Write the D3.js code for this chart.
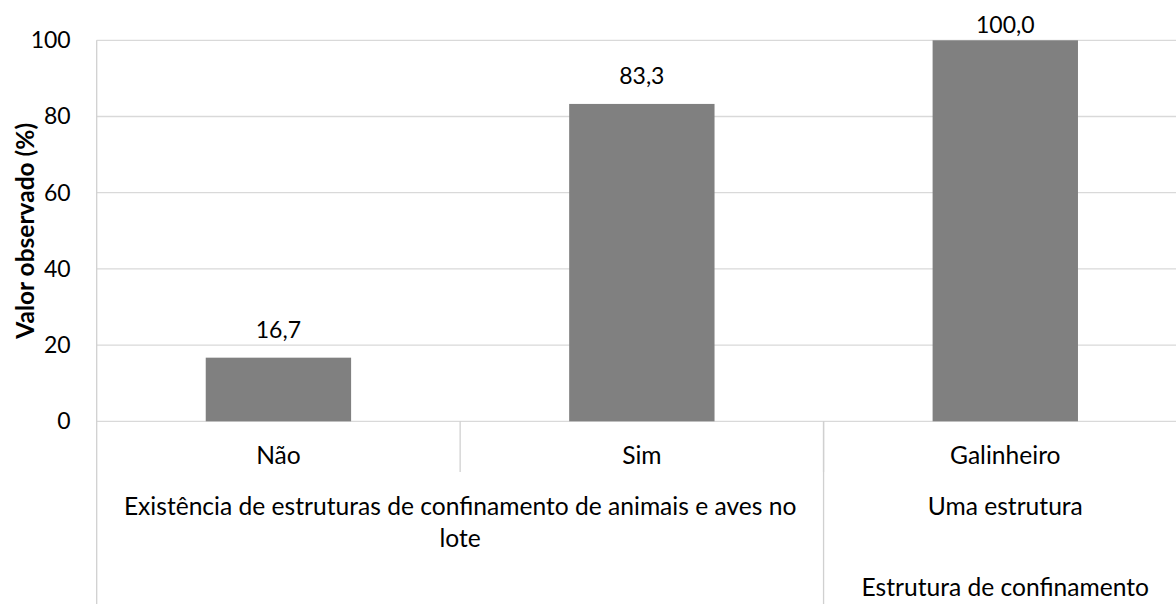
<!DOCTYPE html>
<html>
<head>
<meta charset="utf-8">
<script src="https://cdn.jsdelivr.net/npm/d3@7"></script>
<style>
  html, body { margin: 0; padding: 0; background: #fff; }
  svg { display: block; }
  text { font-family: Lato, "Open Sans", sans-serif; fill: #000; }
</style>
</head>
<body>
<svg id="chart" width="1176" height="604"></svg>
<script>
// ---- data ----
const categories = ["Não", "Sim", "Galinheiro"];
const values = [16.7, 83.3, 100.0];
const yTicks = [0, 20, 40, 60, 80, 100];
const level2Labels = [["Existência de estruturas de confinamento de animais e aves no", "lote"], ["Uma estrutura"]];
const level2Spans = [2, 1];
const level3Labels = [[""], ["Estrutura de confinamento"]];
const level3Spans = [2, 1];
const yTitle = "Valor observado (%)";

// ---- layout ----
const W = 1176, H = 604;
const pLeft = 96.7, pRight = 1187, pTop = 40.3, pBottom = 421.3;
const fs = 24.6;     // category text
const fsNum = 23;    // numbers

const svg = d3.select("#chart");
const x = d3.scaleBand().domain(categories).range([pLeft, pRight]).paddingInner(0).paddingOuter(0);
const y = d3.scaleLinear().domain([0, 100]).range([pBottom, pTop]);
const loc = d3.formatLocale({decimal: ",", thousands: ".", grouping: [3], currency: ["", ""]});
const fmt = loc.format(".1f");

// gridlines
svg.append("g").selectAll("line").data(yTicks).join("line")
  .attr("x1", pLeft).attr("x2", pRight)
  .attr("y1", d => y(d)).attr("y2", d => y(d))
  .attr("stroke", "#d9d9d9").attr("stroke-width", 1.3);

// y axis labels
const yAxis = d3.axisLeft(y).tickValues(yTicks).tickSize(0).tickPadding(26).tickFormat(d3.format("d"));
const gy = svg.append("g").attr("transform", `translate(${pLeft},0)`).call(yAxis);
gy.select(".domain").remove();
gy.selectAll("text").attr("font-size", fsNum).attr("font-family", "Lato").attr("fill", "#000");

// bars
const bw = x.bandwidth() * 0.4;
svg.append("g").selectAll("rect").data(values).join("rect")
  .attr("x", (d, i) => x(categories[i]) + (x.bandwidth() - bw) / 2)
  .attr("width", bw)
  .attr("y", d => y(d))
  .attr("height", d => y(0) - y(d))
  .attr("fill", "#808080");

// data labels
svg.append("g").selectAll("text").data(values).join("text")
  .attr("x", (d, i) => x(categories[i]) + x.bandwidth() / 2)
  .attr("y", d => Math.max(y(d) - 20, 33))
  .attr("text-anchor", "middle")
  .attr("font-size", fsNum)
  .text(d => fmt(d));

// vertical axis line and separators
const sep = svg.append("g").attr("stroke", "#d0d0d0").attr("stroke-width", 1.3);
sep.append("line").attr("x1", pLeft).attr("x2", pLeft).attr("y1", pTop).attr("y2", H);
categories.slice(1).forEach(c => {
  sep.append("line").attr("x1", x(c)).attr("x2", x(c)).attr("y1", pBottom).attr("y2", 472);
});
let acc = 0;
level2Spans.slice(0, -1).forEach(s => {
  acc += s;
  const xx = x(categories[acc]);
  sep.append("line").attr("x1", xx).attr("x2", xx).attr("y1", pBottom).attr("y2", H);
});

// level-1 labels
svg.append("g").selectAll("text").data(categories).join("text")
  .attr("x", d => x(d) + x.bandwidth() / 2)
  .attr("y", 464)
  .attr("text-anchor", "middle")
  .attr("font-size", fs)
  .text(d => d);

// grouped labels
function drawLevel(labels, spans, baseY) {
  let start = 0;
  labels.forEach((lines, i) => {
    const x0 = x(categories[start]);
    const x1 = x(categories[start + spans[i] - 1]) + x.bandwidth();
    const t = svg.append("text")
      .attr("x", (x0 + x1) / 2).attr("y", baseY)
      .attr("text-anchor", "middle").attr("font-size", fs);
    lines.forEach((ln, j) => {
      t.append("tspan").attr("x", (x0 + x1) / 2).attr("dy", j === 0 ? 0 : 32).text(ln);
    });
    start += spans[i];
  });
}
drawLevel(level2Labels, level2Spans, 515);
drawLevel(level3Labels, level3Spans, 596);

// y title
svg.append("text")
  .attr("transform", `translate(33.5,${(pTop + pBottom) / 2}) rotate(-90)`)
  .attr("text-anchor", "middle")
  .attr("font-size", 24.5)
  .attr("font-weight", "bold")
  .text(yTitle);
</script>
</body>
</html>
